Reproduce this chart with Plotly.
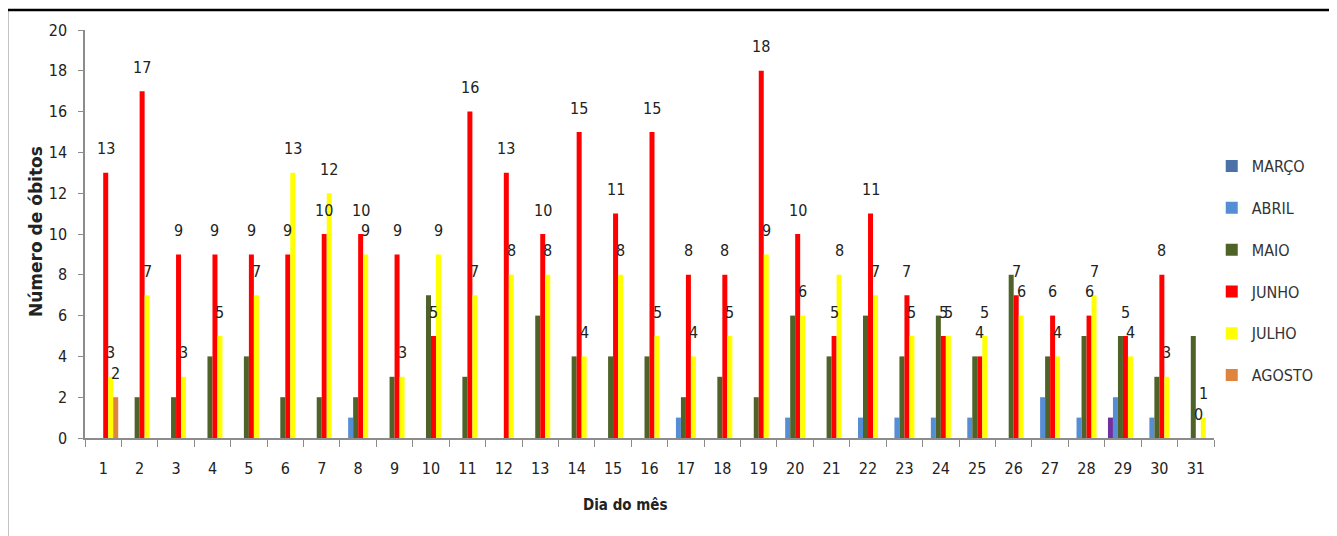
import plotly.graph_objects as go

dias = [str(d) for d in range(1, 32)]

marco = [None]*28 + [1, None, None]
abril = [None, None, None, None, None, None, None, 1, None, None,
         None, None, None, None, None, None, 1, None, None, 1,
         None, 1, 1, 1, 1, None, 2, 1, 2, 1, None]
maio = [None, 2, 2, 4, 4, 2, 2, 2, 3, 7,
        3, None, 6, 4, 4, 4, 2, 3, 2, 6,
        4, 6, 4, 6, 4, 8, 4, 5, 5, 3, 5]
junho = [13, 17, 9, 9, 9, 9, 10, 10, 9, 5,
         16, 13, 10, 15, 11, 15, 8, 8, 18, 10,
         5, 11, 7, 5, 4, 7, 6, 6, 5, 8, 0]
julho = [3, 7, 3, 5, 7, 13, 12, 9, 3, 9,
         7, 8, 8, 4, 8, 5, 4, 5, 9, 6,
         8, 7, 5, 5, 5, 6, 4, 7, 4, 3, 1]
agosto = [2] + [None]*30

series = [
    ("MARÇO", marco, "#4A72A6", False),
    ("ABRIL", abril, "#558ED5", False),
    ("MAIO", maio, "#4F6228", False),
    ("JUNHO", junho, "#FF0000", True),
    ("JULHO", julho, "#FFFF00", True),
    ("AGOSTO", agosto, "#E0833F", True),
]

FONT = "DejaVu Sans Condensed, DejaVu Sans, sans-serif"
W, H = 1337, 536
ML, MR, MT, MB = 77, 131, 22, 106
GAP = 0.176

fig = go.Figure()
for name, vals, color, labelled in series:
    if name == "MARÇO":
        colors = ["#7030A0" if v is not None else color for v in vals]
    else:
        colors = color
    fig.add_trace(go.Bar(
        name=name, x=dias, y=vals, marker=dict(color=colors, line=dict(width=0)),
        legendgroup=name, hoverinfo="x+y+name"))

# data labels placed above the bar slot of each labelled series
plot_w = W - ML - MR
slot_px = plot_w / len(dias) * (1 - GAP) / len(series)
annotations = []
for i, (name, vals, color, labelled) in enumerate(series):
    if not labelled:
        continue
    for k, v in enumerate(vals):
        if v is None:
            continue
        annotations.append(dict(
            x=k, y=v, xref="x", yref="y", text=str(v), showarrow=False,
            xanchor="center", yanchor="middle",
            xshift=(i - (len(series) - 1) / 2) * slot_px, yshift=24,
            font=dict(family=FONT, size=16, color="#222222")))

annotations += [
    dict(text="<b>Número de óbitos</b>", xref="paper", yref="paper",
         x=-0.0434, y=0.505, xanchor="center", yanchor="middle",
         textangle=-90, showarrow=False,
         font=dict(family="DejaVu Sans, sans-serif", size=17, color="#222222")),
    dict(text="<b>Dia do mês</b>", xref="paper", yref="paper",
         x=0.479, y=-0.164, xanchor="center", yanchor="middle", showarrow=False,
         font=dict(family=FONT, size=15, color="#222222")),
]

fig.update_layout(
    width=W, height=H,
    margin=dict(l=ML, r=MR, t=MT, b=MB),
    paper_bgcolor="white", plot_bgcolor="white",
    barmode="group", bargap=GAP, bargroupgap=0,
    font=dict(family=FONT, size=16, color="#222222"),
    showlegend=True,
    legend=dict(
        x=0.998, xanchor="left", y=0.708, yanchor="top",
        font=dict(family=FONT, size=16, color="#333333"),
        traceorder="grouped", tracegroupgap=18,
        bgcolor="rgba(0,0,0,0)",
    ),
    xaxis=dict(
        type="category", showgrid=False, showline=True, linecolor="#8c8c8c", linewidth=1.5,
        ticks="outside", tickson="boundaries", ticklen=7, tickcolor="#8c8c8c",
        ticklabelstandoff=15, tickfont=dict(family=FONT, size=16, color="#222222"),
        range=[-0.5, len(dias) - 0.5],
    ),
    yaxis=dict(
        range=[0, 20], dtick=2, showgrid=False, zeroline=False,
        showline=True, linecolor="#8c8c8c", linewidth=1.5,
        ticks="outside", ticklen=5, tickcolor="#8c8c8c",
        ticklabelstandoff=8, tickfont=dict(family=FONT, size=16, color="#222222"),
    ),
    annotations=annotations,
    shapes=[
        dict(type="rect", xref="paper", yref="paper",
             x0=-0.0691, x1=1.1036, y0=-0.4, y1=1.049,
             line=dict(color="black", width=2.5), fillcolor="rgba(0,0,0,0)"),
    ],
)

fig.write_html("out.html")
